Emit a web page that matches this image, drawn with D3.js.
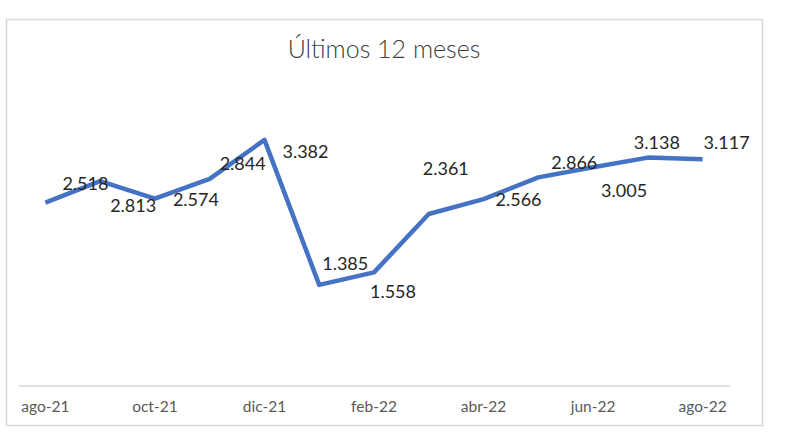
<!DOCTYPE html>
<html>
<head>
<meta charset="utf-8">
<script src="https://cdn.jsdelivr.net/npm/d3@7"></script>
<style>
  body { margin: 0; background: #fff; }
  text { font-family: Lato, "Open Sans", sans-serif; }
</style>
</head>
<body>
<svg id="chart"></svg>
<script>
// Meses (13 puntos) y valores
const months = ["ago-21", "sep-21", "oct-21", "nov-21", "dic-21", "ene-22", "feb-22",
                "mar-22", "abr-22", "may-22", "jun-22", "jul-22", "ago-22"];
const values = [2.518, 2.813, 2.574, 2.844, 3.382, 1.385, 1.558,
                2.361, 2.566, 2.866, 3.005, 3.138, 3.117];
// Etiquetas del eje x (cada dos meses)
const tickLabels = ["ago-21", "oct-21", "dic-21", "feb-22", "abr-22", "jun-22", "ago-22"];

// Desplazamiento de cada etiqueta de dato respecto a su punto (como en el original)
const labelOffsets = [[40, -19], [33, 24], [41, 1], [33, -15], [41, 12], [26, -21], [19, 19],
                      [17, -45], [35, 1], [36, -15], [31, 23], [9, -15], [24, -16]];

const width = 800;
const height = 448;

const svg = d3.select("#chart")
    .attr("width", width)
    .attr("height", height);

// Marco del gráfico
svg.append("rect")
    .attr("x", 6.5)
    .attr("y", 19.5)
    .attr("width", 756)
    .attr("height", 406)
    .attr("fill", "#fff")
    .attr("stroke", "#d9d9d9")
    .attr("stroke-width", 1.5);

// Título
svg.append("text")
    .attr("x", 384)
    .attr("y", 58)
    .attr("text-anchor", "middle")
    .attr("font-size", 25)
    .attr("font-weight", 300)
    .attr("fill", "#404040")
    .text("Últimos 12 meses");

// Escalas
const xScale = d3.scaleBand()
    .domain(months)
    .range([18, 730]);

const yScale = d3.scaleLinear()
    .domain([0, 4])
    .range([385.5, 95]);

const cx = d => xScale(d) + xScale.bandwidth() / 2;

// Eje x
const xAxis = svg.append("g")
    .attr("transform", `translate(0, ${yScale(0)})`)
    .call(d3.axisBottom(xScale)
        .tickValues(tickLabels)
        .tickSize(0)
        .tickPadding(15));
xAxis.select(".domain").attr("stroke", "#d9d9d9").attr("stroke-width", 1.5);
xAxis.selectAll("text")
    .attr("font-size", 15.5)
    .attr("fill", "#595959")
    .style("font-family", "Lato, 'Open Sans', sans-serif");

// Línea
const line = d3.line()
    .x((d, i) => cx(months[i]))
    .y(d => yScale(d));

svg.append("path")
    .datum(values)
    .attr("fill", "none")
    .attr("stroke", "#4472c4")
    .attr("stroke-width", 4.5)
    .attr("stroke-linejoin", "round")
    .attr("d", line);

// Etiquetas de datos
svg.append("g")
    .selectAll("text")
    .data(values)
    .join("text")
    .attr("x", (d, i) => cx(months[i]) + labelOffsets[i][0])
    .attr("y", (d, i) => yScale(d) + labelOffsets[i][1])
    .attr("dy", "0.35em")
    .attr("text-anchor", "middle")
    .attr("font-size", 18)
    .attr("fill", "#262626")
    .text(d => d3.format(".3f")(d));
</script>
</body>
</html>
